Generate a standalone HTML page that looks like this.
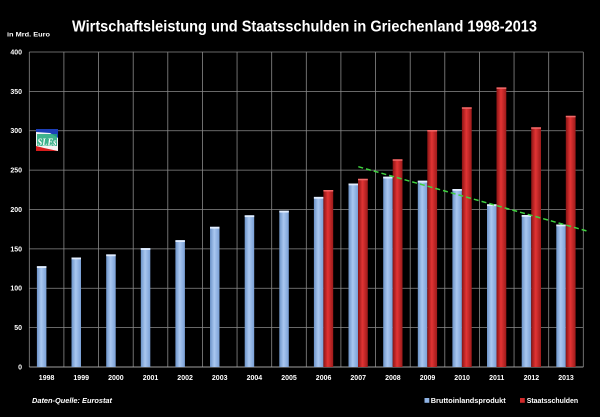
<!DOCTYPE html>
<html><head><meta charset="utf-8"><style>
html,body{margin:0;padding:0;background:#000;}
svg{display:block;}
text{font-family:"Liberation Sans",sans-serif;fill:#fff;}
</style></head><body>
<svg width="600" height="417" viewBox="0 0 600 417" xmlns="http://www.w3.org/2000/svg">
<defs>
<linearGradient id="gb" x1="0" x2="1" y1="0" y2="0">
<stop offset="0" stop-color="#6c93c8"/><stop offset="0.45" stop-color="#a9c7f0"/><stop offset="1" stop-color="#7aa0d6"/>
</linearGradient>
<linearGradient id="gr" x1="0" x2="1" y1="0" y2="0">
<stop offset="0" stop-color="#8a1414"/><stop offset="0.45" stop-color="#e23434"/><stop offset="1" stop-color="#9c1a1a"/>
</linearGradient>
</defs>
<rect width="600" height="417" fill="#000"/>
<text x="72" y="31.5" font-size="15.5" font-weight="bold" textLength="465" lengthAdjust="spacingAndGlyphs">Wirtschaftsleistung und Staatsschulden in Griechenland 1998-2013</text>
<text x="7" y="36.5" font-size="6.5" font-weight="bold" textLength="43" lengthAdjust="spacingAndGlyphs" fill="#ddd">in Mrd. Euro</text>
<g stroke="#8a8a8a" stroke-width="0.8">
<line x1="29.3" x2="583.3" y1="52" y2="52"/>
<line x1="29.3" x2="583.3" y1="91.4" y2="91.4"/>
<line x1="29.3" x2="583.3" y1="130.75" y2="130.75"/>
<line x1="29.3" x2="583.3" y1="170.1" y2="170.1"/>
<line x1="29.3" x2="583.3" y1="209.5" y2="209.5"/>
<line x1="29.3" x2="583.3" y1="248.9" y2="248.9"/>
<line x1="29.3" x2="583.3" y1="288.25" y2="288.25"/>
<line x1="29.3" x2="583.3" y1="327.6" y2="327.6"/>
<line x1="29.3" x2="29.3" y1="52" y2="367"/>
<line x1="63.9" x2="63.9" y1="52" y2="367"/>
<line x1="98.55" x2="98.55" y1="52" y2="367"/>
<line x1="133.2" x2="133.2" y1="52" y2="367"/>
<line x1="167.8" x2="167.8" y1="52" y2="367"/>
<line x1="202.4" x2="202.4" y1="52" y2="367"/>
<line x1="237.05" x2="237.05" y1="52" y2="367"/>
<line x1="271.7" x2="271.7" y1="52" y2="367"/>
<line x1="306.3" x2="306.3" y1="52" y2="367"/>
<line x1="340.9" x2="340.9" y1="52" y2="367"/>
<line x1="375.55" x2="375.55" y1="52" y2="367"/>
<line x1="410.2" x2="410.2" y1="52" y2="367"/>
<line x1="444.8" x2="444.8" y1="52" y2="367"/>
<line x1="479.4" x2="479.4" y1="52" y2="367"/>
<line x1="514.05" x2="514.05" y1="52" y2="367"/>
<line x1="548.7" x2="548.7" y1="52" y2="367"/>
<line x1="583.3" x2="583.3" y1="52" y2="367"/>
</g>
<line x1="29.3" x2="583.3" y1="367" y2="367" stroke="#a0a0a0" stroke-width="1"/>
<g font-size="7" font-weight="bold" text-anchor="end" fill="#eee">
<text x="22" y="54.5">400</text>
<text x="22" y="93.9">350</text>
<text x="22" y="133.2">300</text>
<text x="22" y="172.6">250</text>
<text x="22" y="212">200</text>
<text x="22" y="251.4">150</text>
<text x="22" y="290.7">100</text>
<text x="22" y="330.1">50</text>
<text x="22" y="369.5">0</text>
</g>
<g fill="url(#gb)">
<rect x="36.9" y="266.2" width="9.5" height="100.8"/>
<rect x="71.5" y="257.5" width="9.5" height="109.5"/>
<rect x="106.2" y="254.4" width="9.5" height="112.6"/>
<rect x="140.8" y="248.1" width="9.5" height="118.9"/>
<rect x="175.4" y="240.2" width="9.5" height="126.8"/>
<rect x="210.0" y="226.8" width="9.5" height="140.2"/>
<rect x="244.7" y="215.3" width="9.5" height="151.7"/>
<rect x="279.3" y="210.7" width="9.5" height="156.3"/>
<rect x="313.9" y="196.9" width="9.5" height="170.1"/>
<rect x="348.5" y="183.5" width="9.5" height="183.5"/>
<rect x="383.2" y="176.7" width="9.5" height="190.3"/>
<rect x="417.8" y="180.7" width="9.5" height="186.3"/>
<rect x="452.4" y="189.0" width="9.5" height="178"/>
<rect x="487.0" y="204.3" width="9.5" height="162.7"/>
<rect x="521.7" y="215.0" width="9.5" height="152"/>
<rect x="556.3" y="224.5" width="9.5" height="142.5"/>
</g>
<g fill="#e2eeff">
<rect x="36.9" y="266.2" width="9.5" height="1.8"/>
<rect x="71.5" y="257.5" width="9.5" height="1.8"/>
<rect x="106.2" y="254.4" width="9.5" height="1.8"/>
<rect x="140.8" y="248.1" width="9.5" height="1.8"/>
<rect x="175.4" y="240.2" width="9.5" height="1.8"/>
<rect x="210.0" y="226.8" width="9.5" height="1.8"/>
<rect x="244.7" y="215.3" width="9.5" height="1.8"/>
<rect x="279.3" y="210.7" width="9.5" height="1.8"/>
<rect x="313.9" y="196.9" width="9.5" height="1.8"/>
<rect x="348.5" y="183.5" width="9.5" height="1.8"/>
<rect x="383.2" y="176.7" width="9.5" height="1.8"/>
<rect x="417.8" y="180.7" width="9.5" height="1.8"/>
<rect x="452.4" y="189.0" width="9.5" height="1.8"/>
<rect x="487.0" y="204.3" width="9.5" height="1.8"/>
<rect x="521.7" y="215.0" width="9.5" height="1.8"/>
<rect x="556.3" y="224.5" width="9.5" height="1.8"/>
</g>
<g fill="url(#gr)">
<rect x="323.4" y="190.0" width="9.8" height="177"/>
<rect x="358.0" y="178.8" width="9.8" height="188.2"/>
<rect x="392.7" y="159.3" width="9.8" height="207.7"/>
<rect x="427.3" y="130.0" width="9.8" height="237"/>
<rect x="461.9" y="107.3" width="9.8" height="259.7"/>
<rect x="496.5" y="87.4" width="9.8" height="279.6"/>
<rect x="531.2" y="127.3" width="9.8" height="239.7"/>
<rect x="565.8" y="115.8" width="9.8" height="251.2"/>
</g>
<g fill="#f06a6a">
<rect x="323.4" y="190.0" width="9.8" height="1.5"/>
<rect x="358.0" y="178.8" width="9.8" height="1.5"/>
<rect x="392.7" y="159.3" width="9.8" height="1.5"/>
<rect x="427.3" y="130.0" width="9.8" height="1.5"/>
<rect x="461.9" y="107.3" width="9.8" height="1.5"/>
<rect x="496.5" y="87.4" width="9.8" height="1.5"/>
<rect x="531.2" y="127.3" width="9.8" height="1.5"/>
<rect x="565.8" y="115.8" width="9.8" height="1.5"/>
</g>
<line x1="358.3" y1="166.7" x2="587" y2="231" stroke="#3fd23f" stroke-width="1.5" stroke-dasharray="5,3"/>
<g font-size="7" font-weight="bold" text-anchor="middle" fill="#eee">
<text x="46.6" y="380">1998</text>
<text x="81.2" y="380">1999</text>
<text x="115.9" y="380">2000</text>
<text x="150.5" y="380">2001</text>
<text x="185.1" y="380">2002</text>
<text x="219.7" y="380">2003</text>
<text x="254.4" y="380">2004</text>
<text x="289" y="380">2005</text>
<text x="323.6" y="380">2006</text>
<text x="358.2" y="380">2007</text>
<text x="392.9" y="380">2008</text>
<text x="427.5" y="380">2009</text>
<text x="462.1" y="380">2010</text>
<text x="496.7" y="380">2011</text>
<text x="531.4" y="380">2012</text>
<text x="566" y="380">2013</text>
</g>
<text x="32" y="403" font-size="7.5" font-weight="bold" font-style="italic" textLength="80" lengthAdjust="spacingAndGlyphs" fill="#ddd">Daten-Quelle: Eurostat</text>
<rect x="424.5" y="398" width="4.8" height="4.8" fill="#8fb3e5"/>
<text x="430.7" y="402.8" font-size="7.5" font-weight="bold" textLength="75" lengthAdjust="spacingAndGlyphs" fill="#eee">Bruttoinlandsprodukt</text>
<rect x="520" y="398" width="4.8" height="4.8" fill="#d02a2a"/>
<text x="526.7" y="402.8" font-size="7.5" font-weight="bold" textLength="51.5" lengthAdjust="spacingAndGlyphs" fill="#eee">Staatsschulden</text>
<g>
<rect x="36" y="129" width="22" height="22" fill="#f4f4f4"/>
<polygon points="36,129 58,129 58,138 50,133 36,132" fill="#1d3fb8"/>
<polygon points="36,146 44,148 58,151 36,151" fill="#d81c1c"/>
<rect x="37" y="134" width="20" height="12" fill="#1fa77a" opacity="0.85"/>
<text x="37.5" y="145.5" font-size="10" font-weight="bold" font-style="italic" textLength="19" lengthAdjust="spacingAndGlyphs" style="font-family:'Liberation Serif',serif" fill="#0a3d2a">SLEs</text>
</g>
</svg>
</body></html>
